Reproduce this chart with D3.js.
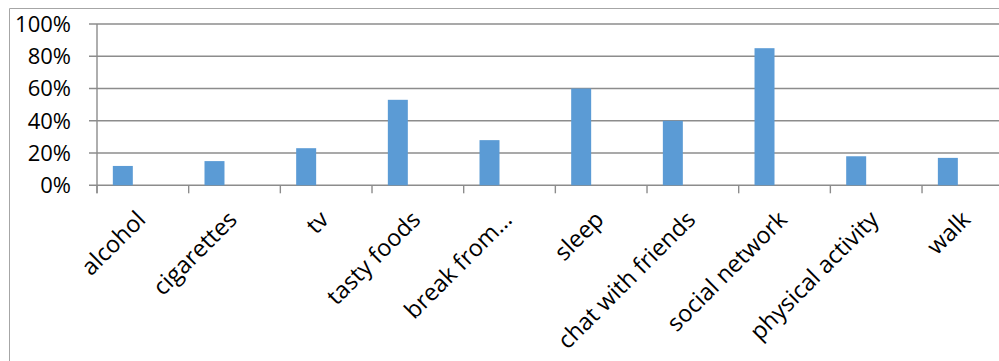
<!DOCTYPE html>
<html><head><meta charset="utf-8">
<script src="https://cdn.jsdelivr.net/npm/d3@7"></script>
<style>body{margin:0;background:#fff;}svg{display:block;}</style>
</head><body>
<svg id="c" width="999" height="361"></svg>
<script>
const categories = ["alcohol","cigarettes","tv","tasty foods","break from\u2026","sleep","chat with friends","social network","physical activity","walk"];
const values = [0.12,0.15,0.23,0.53,0.28,0.60,0.40,0.85,0.18,0.17];
const yTicks = [0,0.2,0.4,0.6,0.8,1.0];

const svg = d3.select("#c");
const L = 97, R = 1013.7, T = 24, B = 185.3;
const x = d3.scaleBand().domain(categories).range([L, R]).padding(0);
const y = d3.scaleLinear().domain([0,1]).range([B, T]);
const bw = x.bandwidth();
const font = "'Open Sans', sans-serif";

// outer border
svg.append("path").attr("d", `M9.5,361 V8.5 H999`).attr("fill","none").attr("stroke","#a6a6a6").attr("stroke-width",1);

// gridlines
svg.append("g").selectAll("line").data(yTicks).join("line")
  .attr("x1", L - 8).attr("x2", R).attr("y1", d => y(d)).attr("y2", d => y(d))
  .attr("stroke","#8c8c8c").attr("stroke-width",1.4);

// bars
svg.append("g").selectAll("rect").data(values).join("rect")
  .attr("x", (d,i) => x(categories[i]) + bw*0.1727)
  .attr("width", bw*0.218)
  .attr("y", d => y(d)).attr("height", d => B - y(d))
  .attr("fill","#5b9bd5");

// y axis line
svg.append("line").attr("x1",L).attr("x2",L).attr("y1",T).attr("y2",B+8)
  .attr("stroke","#8c8c8c").attr("stroke-width",1.4);
// x category ticks
svg.append("g").selectAll("line").data(categories).join("line")
  .attr("x1", d => x(d)).attr("x2", d => x(d)).attr("y1", B).attr("y2", B+8)
  .attr("stroke","#8c8c8c").attr("stroke-width",1.4);

// y labels
svg.append("g").selectAll("text").data(yTicks).join("text")
  .attr("x", 71).attr("y", d => y(d)).attr("dy","0.36em")
  .attr("text-anchor","end").attr("font-family",font).attr("font-size",22)
  .attr("fill","#000").text(d => d3.format(".0%")(d));

// x labels
svg.append("g").selectAll("text").data(categories).join("text")
  .attr("transform", d => `translate(${x(d)+bw/2+4},221) rotate(-45)`)
  .attr("text-anchor","end").attr("font-family",font).attr("font-size",23.5)
  .attr("fill","#000").text(d => d);
</script>
</body></html>
